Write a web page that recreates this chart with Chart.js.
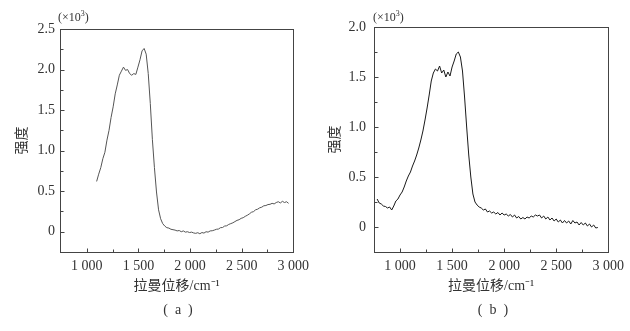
<!DOCTYPE html>
<html>
<head>
<meta charset="utf-8">
<script src="https://cdn.jsdelivr.net/npm/chart.js@4"></script>
<style>
  html, body { margin: 0; padding: 0; background: #fff; }
  body { width: 630px; height: 331px; position: relative; overflow: hidden; }
  .panel { position: absolute; top: 0; width: 315px; height: 331px; }
  .unit { position: absolute; top: 10px; font: 12px "Liberation Serif", serif; color: #333; }
  .unit sup { font-size: 8px; vertical-align: 5px; line-height: 0; }
  .cap { position: absolute; top: 302px; width: 60px; text-align: center;
         font: 14px "Liberation Serif", serif; color: #333; white-space: pre; }
</style>
</head>
<body>
<div class="panel" style="left:0"><canvas id="chartA"></canvas></div>
<div class="panel" style="left:315px"><canvas id="chartB"></canvas></div>
<div class="unit" style="left:58px">(×10<sup>3</sup>)</div>
<div class="unit" style="left:373px">(×10<sup>3</sup>)</div>
<div class="cap" style="left:148px">(  a  )</div>
<div class="cap" style="left:463px">(  b  )</div>
<script>
// Raman shift (cm-1) and intensity (x10^3) for spectrum (a)
const shiftA = [1095, 1115, 1135, 1155, 1175, 1195, 1215, 1235, 1255, 1275,
  1295, 1315, 1335, 1355, 1375, 1395, 1415, 1435, 1455, 1475,
  1495, 1515, 1535, 1555, 1575, 1595, 1615, 1635, 1655, 1675,
  1695, 1715, 1735, 1755, 1775, 1795, 1815, 1835, 1855, 1875,
  1895, 1915, 1935, 1955, 1975, 1995, 2015, 2035, 2055, 2075,
  2095, 2115, 2135, 2155, 2175, 2195, 2215, 2235, 2255, 2275,
  2295, 2315, 2335, 2355, 2375, 2395, 2415, 2435, 2455, 2475,
  2495, 2515, 2535, 2555, 2575, 2595, 2615, 2635, 2655, 2675,
  2695, 2715, 2735, 2755, 2775, 2795, 2815, 2835, 2855, 2875,
  2895, 2915, 2935, 2955];
const intensityA = [0.62, 0.71, 0.79, 0.90, 0.98, 1.13, 1.25, 1.41, 1.54, 1.70,
  1.81, 1.93, 1.98, 2.03, 1.99, 2.00, 1.95, 1.93, 1.95, 1.94,
  2.03, 2.12, 2.23, 2.26, 2.19, 1.95, 1.58, 1.14, 0.79, 0.49,
  0.27, 0.16, 0.10, 0.07, 0.05, 0.045, 0.03, 0.025, 0.02, 0.01,
  0.015, 0.0, 0.01, -0.005, 0.0, -0.01, -0.005, -0.015, -0.02, -0.012,
  -0.025, -0.01, -0.017, 0.0, -0.005, 0.01, 0.012, 0.02, 0.03, 0.033,
  0.05, 0.052, 0.07, 0.073, 0.09, 0.10, 0.11, 0.125, 0.14, 0.148,
  0.165, 0.173, 0.19, 0.203, 0.22, 0.24, 0.248, 0.27, 0.278, 0.295,
  0.303, 0.32, 0.323, 0.335, 0.338, 0.35, 0.343, 0.36, 0.37, 0.355,
  0.375, 0.36, 0.37, 0.35];

// Raman shift (cm-1) and intensity (x10^3) for spectrum (b)
const shiftB = [780, 800, 820, 840, 860, 880, 900, 920, 940, 960,
  980, 1000, 1020, 1040, 1060, 1080, 1100, 1120, 1140, 1160,
  1180, 1200, 1220, 1240, 1260, 1280, 1300, 1320, 1340, 1360,
  1380, 1400, 1420, 1440, 1460, 1480, 1500, 1520, 1540, 1560,
  1580, 1600, 1620, 1640, 1660, 1680, 1700, 1720, 1740, 1760,
  1780, 1800, 1820, 1840, 1860, 1880, 1900, 1920, 1940, 1960,
  1980, 2000, 2020, 2040, 2060, 2080, 2100, 2120, 2140, 2160,
  2180, 2200, 2220, 2240, 2260, 2280, 2300, 2320, 2340, 2360,
  2380, 2400, 2420, 2440, 2460, 2480, 2500, 2520, 2540, 2560,
  2580, 2600, 2620, 2640, 2660, 2680, 2700, 2720, 2740, 2760,
  2780, 2800, 2820, 2840, 2860, 2880, 2900];
const intensityB = [0.28, 0.24, 0.23, 0.21, 0.205, 0.19, 0.20, 0.17, 0.21, 0.26,
  0.28, 0.32, 0.35, 0.40, 0.46, 0.51, 0.55, 0.61, 0.66, 0.72,
  0.79, 0.87, 0.96, 1.07, 1.19, 1.32, 1.46, 1.54, 1.58, 1.56,
  1.61, 1.54, 1.57, 1.50, 1.55, 1.51, 1.60, 1.66, 1.73, 1.75,
  1.70, 1.56, 1.30, 1.00, 0.72, 0.50, 0.33, 0.25, 0.22, 0.20,
  0.19, 0.17, 0.18, 0.15, 0.16, 0.14, 0.15, 0.13, 0.145, 0.12,
  0.14, 0.12, 0.13, 0.11, 0.125, 0.10, 0.12, 0.09, 0.105, 0.08,
  0.095, 0.08, 0.10, 0.09, 0.11, 0.10, 0.12, 0.11, 0.12, 0.09,
  0.11, 0.08, 0.10, 0.07, 0.09, 0.06, 0.08, 0.05, 0.07, 0.04,
  0.065, 0.04, 0.06, 0.03, 0.065, 0.04, 0.05, 0.02, 0.045, 0.02,
  0.04, 0.01, 0.03, 0.0, 0.02, -0.01, -0.005];

// axis ticks (labelled ones; minor marks go halfway between)
const xTickValues = [1000, 1500, 2000, 2500, 3000];
const yTicksA = [0, 0.5, 1.0, 1.5, 2.0, 2.5];
const yTicksB = [0, 0.5, 1.0, 1.5, 2.0];

const serif = '"Liberation Serif", "Noto Sans CJK SC", serif';
const cjk = '"Noto Sans CJK SC", "Liberation Serif", serif';

// closed frame plus short inward tick marks
const frameTicks = {
  id: 'frameTicks',
  afterDraw(chart) {
    const { ctx, chartArea: a, scales: { x, y } } = chart;
    const L = Math.round(a.left) + 0.5, R = Math.round(a.right) + 0.5;
    const T = Math.round(a.top) + 0.5, B = Math.round(a.bottom) + 0.5;
    ctx.save();
    ctx.strokeStyle = '#444';
    ctx.lineWidth = 1;
    ctx.strokeRect(L, T, R - L, B - T);
    const mark = (vals, len, horiz) => {
      vals.forEach(v => {
        if (horiz) {
          const px = Math.round(x.getPixelForValue(v)) + 0.5;
          if (px <= L + 1 || px >= R - 1) return;
          ctx.beginPath(); ctx.moveTo(px, B); ctx.lineTo(px, B - len); ctx.stroke();
        } else {
          const py = Math.round(y.getPixelForValue(v)) + 0.5;
          if (py <= T + 1 || py >= B - 1) return;
          ctx.beginPath(); ctx.moveTo(L, py); ctx.lineTo(L + len, py); ctx.stroke();
        }
      });
    };
    const mids = vals => vals.slice(1).map((v, i) => (v + vals[i]) / 2);
    const xs = x.ticks.map(t => t.value), ys = y.ticks.map(t => t.value);
    mark(xs, 4, true); mark(mids(xs), 3, true);
    mark(ys, 4, false); mark(mids(ys), 3, false);
    ctx.restore();
  }
};

function fmtShift(v) {
  return v >= 1000 ? Math.floor(v / 1000) + ' ' + String(v % 1000).padStart(3, '0') : String(v);
}

function makeChart(id, shift, inten, opts) {
  const points = shift.map((s, i) => ({ x: s, y: inten[i] }));
  return new Chart(document.getElementById(id), {
    type: 'line',
    data: { datasets: [{ data: points, borderColor: opts.color, borderWidth: 1, pointRadius: 0, tension: 0 }] },
    plugins: [frameTicks],
    options: {
      responsive: true,
      maintainAspectRatio: false,
      animation: false,
      layout: { padding: { top: opts.top, right: opts.right, left: 0, bottom: 0 } },
      plugins: { legend: { display: false }, tooltip: { enabled: false } },
      scales: {
        x: {
          type: 'linear', min: opts.xMin, max: 3000,
          afterBuildTicks: s => { s.ticks = xTickValues.map(v => ({ value: v })); },
          afterFit: s => { s.height = opts.bottom; },
          grid: { display: false, drawTicks: false },
          border: { display: false },
          ticks: { autoSkip: false, maxRotation: 0, padding: 6, color: '#333',
                   font: { family: serif, size: 14 }, callback: v => fmtShift(v) },
          title: { display: true, text: '拉曼位移/cm⁻¹', color: '#333',
                   font: { family: serif, size: 14 }, padding: { top: 0, bottom: 36 } }
        },
        y: {
          type: 'linear', min: -0.25, max: opts.yMax,
          afterBuildTicks: s => { s.ticks = opts.yTicks.map(v => ({ value: v })); },
          afterFit: s => { s.width = opts.left; },
          grid: { display: false, drawTicks: false },
          border: { display: false },
          ticks: { padding: opts.yPad, color: '#333', font: { family: serif, size: 14 },
                   callback: v => v === 0 ? '0' : v.toFixed(1) },
          title: { display: true, text: '强度', color: '#333',
                   font: { family: cjk, size: 14 }, padding: { top: opts.titleX, bottom: 0 } }
        }
      }
    }
  });
}

makeChart('chartA', shiftA, intensityA, {
  color: '#555', xMin: 740, yMax: 2.5, yTicks: yTicksA,
  top: 29, right: 13, left: 60, bottom: 79, yPad: 5, titleX: 12.6
});
makeChart('chartB', shiftB, intensityB, {
  color: '#1a1a1a', xMin: 750, yMax: 2.0, yTicks: yTicksB,
  top: 27, right: 14, left: 59, bottom: 79, yPad: 8, titleX: 10.6
});
</script>
</body>
</html>
